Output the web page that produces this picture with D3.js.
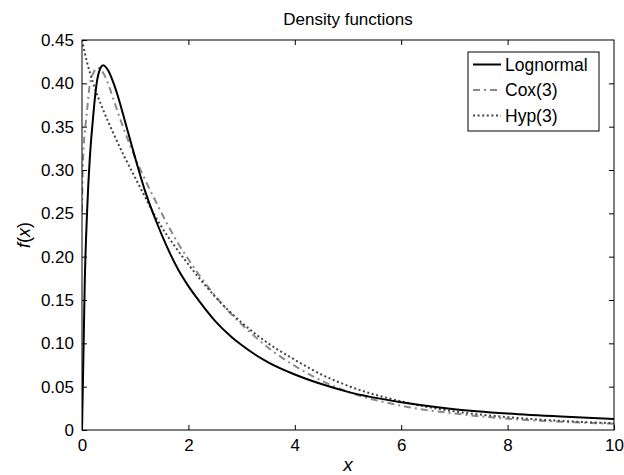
<!DOCTYPE html>
<html>
<head>
<meta charset="utf-8">
<script src="https://cdn.jsdelivr.net/npm/d3@7"></script>
<style>
  body { margin: 0; background: #fff; }
  svg { display: block; font-family: "Liberation Sans", Arial, Helvetica, sans-serif; }
</style>
</head>
<body>
<svg id="chart" width="624" height="475"></svg>
<script>
// Axis ticks
const xTicks = [0, 2, 4, 6, 8, 10];
const yTicks = [0, 0.05, 0.10, 0.15, 0.20, 0.25, 0.30, 0.35, 0.40, 0.45];
const yTickLabels = ["0", "0.05", "0.10", "0.15", "0.20", "0.25", "0.30", "0.35", "0.40", "0.45"];

// Series names
const seriesNames = ["Lognormal", "Cox(3)", "Hyp(3)"];

// Lognormal density
const lognormalX = [0, 0.025, 0.05, 0.1, 0.145, 0.2, 0.275, 0.35, 0.4, 0.5, 0.6, 0.7, 0.8, 0.9, 1.0, 1.2, 1.4, 1.6, 1.8, 2.0, 2.2, 2.5, 2.8, 3.0, 3.5, 4.0, 4.5, 5.0, 6.0, 7.0, 8.0, 9.0, 10];
const lognormalY = [0, 0.08, 0.165, 0.258, 0.312, 0.355, 0.400, 0.418, 0.421, 0.414, 0.399, 0.380, 0.358, 0.336, 0.314, 0.273, 0.240, 0.211, 0.186, 0.166, 0.149, 0.126, 0.108, 0.098, 0.078, 0.064, 0.053, 0.044, 0.032, 0.024, 0.019, 0.0155, 0.0128];

// Cox(3) fit
const coxX = [0, 0.01, 0.025, 0.05, 0.075, 0.1, 0.14, 0.2, 0.3, 0.4, 0.5, 0.6, 0.7, 0.8, 0.9, 1.0, 1.2, 1.4, 1.6, 1.8, 2.0, 2.2, 2.5, 2.8, 3.0, 3.5, 4.0, 4.5, 5.0, 6.0, 7.0, 8.0, 9.0, 10];
const coxY = [0.252, 0.29, 0.32, 0.342, 0.357, 0.372, 0.396, 0.410, 0.418, 0.412, 0.398, 0.380, 0.362, 0.345, 0.329, 0.314, 0.287, 0.262, 0.238, 0.216, 0.197, 0.179, 0.155, 0.134, 0.122, 0.095, 0.074, 0.057, 0.044, 0.028, 0.019, 0.013, 0.0095, 0.0072];

// Hyp(3) fit
const hypX = [0, 0.1, 0.2, 0.4, 0.6, 0.8, 1.0, 1.2, 1.4, 1.5, 2.0, 2.5, 3.0, 3.5, 4.0, 4.5, 5.0, 6.0, 7.0, 8.0, 9.0, 10];
const hypY = [0.45, 0.423, 0.402, 0.369, 0.341, 0.315, 0.291, 0.267, 0.244, 0.234, 0.191, 0.154, 0.124, 0.100, 0.081, 0.064, 0.051, 0.033, 0.0215, 0.0148, 0.0105, 0.0078];

const W = 624, H = 475;
const margin = { top: 40, right: 10, bottom: 45, left: 82 };
const iw = W - margin.left - margin.right;
const ih = H - margin.top - margin.bottom;

const svg = d3.select("#chart");
const g = svg.append("g").attr("transform", `translate(${margin.left},${margin.top})`);

const x = d3.scaleLinear().domain([0, 10]).range([0, iw]);
const y = d3.scaleLinear().domain([0, 0.45]).range([ih, 0]);

// Background of the plotting area
g.append("rect").attr("width", iw).attr("height", ih).attr("fill", "#fff");

g.append("clipPath").attr("id", "plotClip")
  .append("rect").attr("width", iw).attr("height", ih);

const line = d3.line().x(d => x(d[0])).y(d => y(d[1])).curve(d3.curveMonotoneX);

const series = [
  { name: seriesNames[0], xs: lognormalX, ys: lognormalY, color: "#000", dash: null, width: 2 },
  { name: seriesNames[1], xs: coxX, ys: coxY, color: "#8a8a8a", dash: "7,4,2,4", width: 2 },
  { name: seriesNames[2], xs: hypX, ys: hypY, color: "#444", dash: "2,2.6", width: 2 }
];

const curves = g.append("g").attr("clip-path", "url(#plotClip)");
// draw the fits first, the lognormal on top
[series[1], series[2], series[0]].forEach(s => {
  curves.append("path")
    .datum(s.xs.map((v, i) => [v, s.ys[i]]))
    .attr("fill", "none")
    .attr("stroke", s.color)
    .attr("stroke-width", s.width)
    .attr("stroke-dasharray", s.dash)
    .attr("d", line);
});

// Axes with inward ticks on all four sides
const fmtY = d => yTickLabels[yTicks.indexOf(d)];
const axB = g.append("g").attr("transform", `translate(0,${ih})`)
  .call(d3.axisBottom(x).tickValues(xTicks).tickSizeInner(-5).tickSizeOuter(0).tickPadding(9).tickFormat(d3.format("d")));
const axT = g.append("g")
  .call(d3.axisTop(x).tickValues(xTicks.slice(1, -1)).tickSizeInner(-5).tickSizeOuter(0).tickFormat(""));
const axL = g.append("g")
  .call(d3.axisLeft(y).tickValues(yTicks).tickSizeInner(-5).tickSizeOuter(0).tickPadding(8).tickFormat(fmtY));
const axR = g.append("g").attr("transform", `translate(${iw},0)`)
  .call(d3.axisRight(y).tickValues(yTicks.slice(1, -1)).tickSizeInner(-5).tickSizeOuter(0).tickFormat(""));

[axB, axT, axL, axR].forEach(a => {
  a.select(".domain").remove();
  a.selectAll(".tick line").attr("stroke", "#000");
  a.selectAll("text").attr("fill", "#000").style("font-size", "17px").style("font-family", '"Liberation Sans", Arial, sans-serif');
});

// Frame
g.append("rect").attr("width", iw).attr("height", ih)
  .attr("fill", "none").attr("stroke", "#000").attr("stroke-width", 1);

// Title
svg.append("text").attr("x", margin.left + iw / 2).attr("y", 25)
  .attr("text-anchor", "middle").style("font-size", "17px").text("Density functions");

// Axis labels
svg.append("text").attr("x", margin.left + iw / 2).attr("y", 471)
  .attr("text-anchor", "middle").style("font-size", "19px").style("font-style", "italic").text("x");

const yl = svg.append("text").attr("transform", `translate(30,${margin.top + ih / 2}) rotate(-90)`)
  .attr("text-anchor", "middle").style("font-size", "18px");
yl.append("tspan").style("font-style", "italic").text("f");
yl.append("tspan").text("(");
yl.append("tspan").style("font-style", "italic").text("x");
yl.append("tspan").text(")");

// Legend
const lg = svg.append("g").attr("transform", "translate(468,52)");
lg.append("rect").attr("width", 131).attr("height", 79)
  .attr("fill", "#fff").attr("stroke", "#000").attr("stroke-width", 1);
series.forEach((s, i) => {
  const cy = 12.5 + i * 25.5;
  lg.append("line").attr("x1", 5).attr("x2", 33).attr("y1", cy).attr("y2", cy)
    .attr("stroke", s.color).attr("stroke-width", s.width).attr("stroke-dasharray", s.dash);
  lg.append("text").attr("x", 37).attr("y", cy).attr("dy", "0.35em")
    .style("font-size", "17.5px").text(s.name);
});
</script>
</body>
</html>
